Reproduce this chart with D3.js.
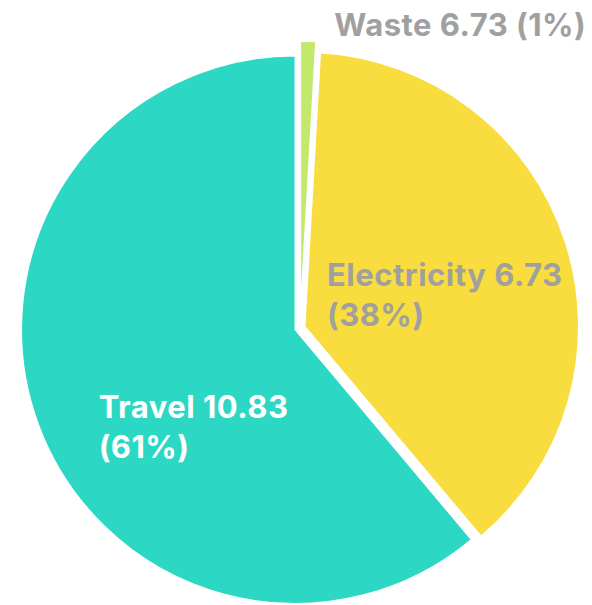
<!DOCTYPE html>
<html>
<head>
<meta charset="utf-8">
<script src="https://cdn.jsdelivr.net/npm/d3@7"></script>
<style>
  body { margin: 0; background: #fff; }
  svg { display: block; }
  text { font-family: Inter, "Noto Sans", sans-serif; font-weight: 700; letter-spacing: 0.5px; }
</style>
</head>
<body>
<div id="chart"></div>
<script>
// data
var categories = ['Waste', 'Electricity', 'Travel'];
var values = [0.16, 6.73, 10.83];
var valueLabels = ['6.73', '6.73', '10.83'];   // as printed on the chart
var percentLabels = ['1%', '38%', '61%'];

// style
var colors = ['#c2e86c', '#f9dc3d', '#2cd8c4'];
var textColors = ['#a0a0a0', '#a0a0a0', '#ffffff'];
var insideLabel = [false, true, true];
var pulls = [13, 5, 5];
var labelNudge = [[156, -153], [10, 12], [27, 50]];

var W = 592, H = 605;
var R = 274;
var cx = 300, cy = 328;
var fontSize = 31, lineHeight = 40, capHeight = 22;

var svg = d3.select('#chart').append('svg')
    .attr('width', W)
    .attr('height', H);

var g = svg.append('g')
    .attr('transform', 'translate(' + cx + ',' + cy + ')');

var pie = d3.pie()
    .sort(null)
    .value(function (d) { return d; });

var arcs = pie(values);

var arc = d3.arc()
    .innerRadius(0)
    .outerRadius(R);

// offset of a slice along its bisector
function pullOffset(d, i) {
    var mid = (d.startAngle + d.endAngle) / 2;
    return [Math.sin(mid) * pulls[i], -Math.cos(mid) * pulls[i]];
}

g.selectAll('path.slice')
    .data(arcs)
    .enter()
    .append('path')
    .attr('class', 'slice')
    .attr('d', arc)
    .attr('fill', function (d, i) { return colors[i]; })
    .attr('stroke', '#fff')
    .attr('stroke-width', 1.5)
    .attr('transform', function (d, i) {
        var o = pullOffset(d, i);
        return 'translate(' + o[0] + ',' + o[1] + ')';
    });

// labels
var labels = g.selectAll('g.label')
    .data(arcs)
    .enter()
    .append('g')
    .attr('class', 'label')
    .attr('transform', function (d, i) {
        var c = arc.centroid(d);
        var o = pullOffset(d, i);
        return 'translate(' + (c[0] + o[0] + labelNudge[i][0]) + ',' +
            (c[1] + o[1] + labelNudge[i][1]) + ')';
    });

labels.each(function (d, i) {
    var lines;
    if (insideLabel[i]) {
        lines = [categories[i] + ' ' + valueLabels[i], '(' + percentLabels[i] + ')'];
    } else {
        lines = [categories[i] + ' ' + valueLabels[i] + ' (' + percentLabels[i] + ')'];
    }
    var sel = d3.select(this);
    var texts = sel.selectAll('text')
        .data(lines)
        .enter()
        .append('text')
        .attr('font-size', fontSize)
        .attr('fill', textColors[i])
        .attr('y', function (t, k) {
            return k * lineHeight - (lines.length - 1) * lineHeight / 2 + capHeight / 2;
        })
        .text(function (t) { return t; });

    var w = 0;
    texts.each(function () { w = Math.max(w, this.getComputedTextLength()); });
    texts.attr('x', -w / 2);
});
</script>
</body>
</html>
